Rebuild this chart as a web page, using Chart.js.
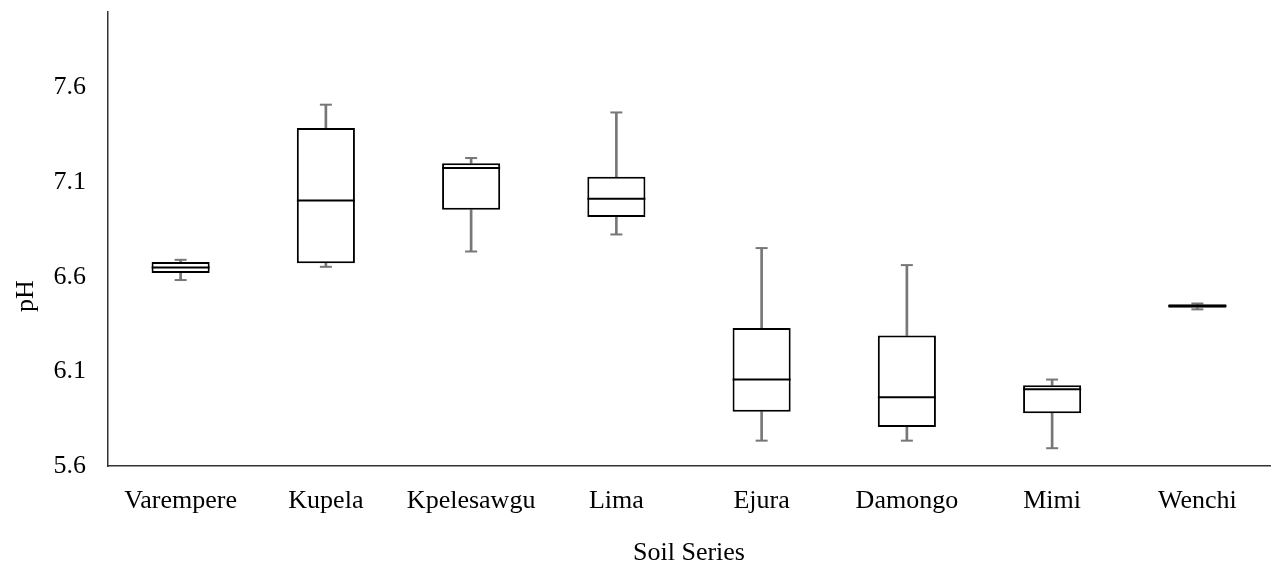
<!DOCTYPE html>
<html>
<head>
<meta charset="utf-8">
<script src="https://cdn.jsdelivr.net/npm/chart.js@4/dist/chart.umd.min.js"></script>
<style>
  html, body { margin: 0; padding: 0; background: #fff; }
  #wrap { width: 1274px; height: 569px; }
</style>
</head>
<body>
<div id="wrap"><canvas id="c" width="1274" height="569"></canvas></div>
<script>
const categories = ['Varempere', 'Kupela', 'Kpelesawgu', 'Lima', 'Ejura', 'Damongo', 'Mimi', 'Wenchi'];
const minV    = [6.583, 6.653, 6.734, 6.824, 5.734, 5.734, 5.694, 6.428];
const q1V     = [6.620, 6.672, 6.954, 6.916, 5.887, 5.806, 5.879, 6.436];
const medianV = [6.649, 7.004, 7.175, 7.013, 6.057, 5.963, 6.006, 6.446];
const q3V     = [6.678, 7.387, 7.201, 7.129, 6.330, 6.290, 6.027, 6.455];
const maxV    = [6.690, 7.510, 7.228, 7.469, 6.752, 6.662, 6.057, 6.459];
const yTicks  = [5.6, 6.1, 6.6, 7.1, 7.6];
const yTitle = 'pH';
const xTitle = 'Soil Series';

const FONT = "'Liberation Serif', 'Times New Roman', serif";
const WHISKER = '#777777';

const boxData = categories.map((c, i) => [q1V[i], q3V[i]]);
const lowWhisker = categories.map((c, i) => [minV[i], q1V[i]]);
const highWhisker = categories.map((c, i) => [q3V[i], maxV[i]]);

const yTitlePlugin = {
  id: 'yTitle',
  afterDraw(chart) {
    const { ctx, chartArea } = chart;
    ctx.save();
    ctx.font = '26px ' + FONT;
    ctx.fillStyle = '#000';
    ctx.textAlign = 'center';
    ctx.textBaseline = 'middle';
    ctx.translate(26, chartArea.top + (chartArea.bottom - chartArea.top) * 0.626);
    ctx.rotate(-Math.PI / 2);
    ctx.fillText(yTitle, 0, 0);
    ctx.restore();
  }
};

new Chart(document.getElementById('c'), {
  data: {
    labels: categories,
    datasets: [
      {
        type: 'line', label: 'median', data: medianV, showLine: false,
        pointStyle: 'line', pointRadius: 29, pointHoverRadius: 29,
        pointBorderColor: '#000', pointBorderWidth: 2, order: 0
      },
      {
        type: 'bar', label: 'box', data: boxData, grouped: false,
        backgroundColor: '#fff', borderColor: '#000', borderWidth: 2,
        borderSkipped: false, categoryPercentage: 1, barPercentage: 0.4, order: 1
      },
      {
        type: 'bar', label: 'lower whisker', data: lowWhisker, grouped: false,
        backgroundColor: WHISKER, borderWidth: 0, barThickness: 2, order: 2
      },
      {
        type: 'bar', label: 'upper whisker', data: highWhisker, grouped: false,
        backgroundColor: WHISKER, borderWidth: 0, barThickness: 2, order: 2
      },
      {
        type: 'line', label: 'min', data: minV, showLine: false,
        pointStyle: 'line', pointRadius: 6, pointHoverRadius: 6,
        pointBorderColor: WHISKER, pointBorderWidth: 2, order: 3
      },
      {
        type: 'line', label: 'max', data: maxV, showLine: false,
        pointStyle: 'line', pointRadius: 6, pointHoverRadius: 6,
        pointBorderColor: WHISKER, pointBorderWidth: 2, order: 3
      }
    ]
  },
  options: {
    responsive: false,
    animation: false,
    events: [],
    layout: { autoPadding: false, padding: { top: 12, right: 4, bottom: 0, left: 0 } },
    plugins: { legend: { display: false }, tooltip: { enabled: false } },
    scales: {
      x: {
        type: 'category',
        offset: true,
        grid: { display: false, drawTicks: false },
        border: { display: true, color: '#333', width: 1.5 },
        ticks: { color: '#000', font: { family: FONT, size: 26 }, padding: 20, maxRotation: 0, autoSkip: false },
        title: { display: true, text: xTitle, color: '#000', font: { family: FONT, size: 26 }, padding: 0 },
        afterFit(scale) {
          scale.height = 103;
          scale.paddingLeft = 0; scale.paddingRight = 0;
        }
      },
      y: {
        type: 'linear',
        min: 5.6, max: 8.0,
        grid: { display: false, drawTicks: false },
        border: { display: true, color: '#333', width: 1.5 },
        ticks: { color: '#000', font: { family: FONT, size: 26 }, padding: 22,
                 callback: (v) => Number(v).toFixed(1) },
        afterBuildTicks(scale) { scale.ticks = yTicks.map(v => ({ value: v })); },
        afterFit(scale) {
          scale.width = 108;
          scale.paddingTop = 0; scale.paddingBottom = 0;
        }
      }
    }
  },
  plugins: [yTitlePlugin]
});
</script>
</body>
</html>
